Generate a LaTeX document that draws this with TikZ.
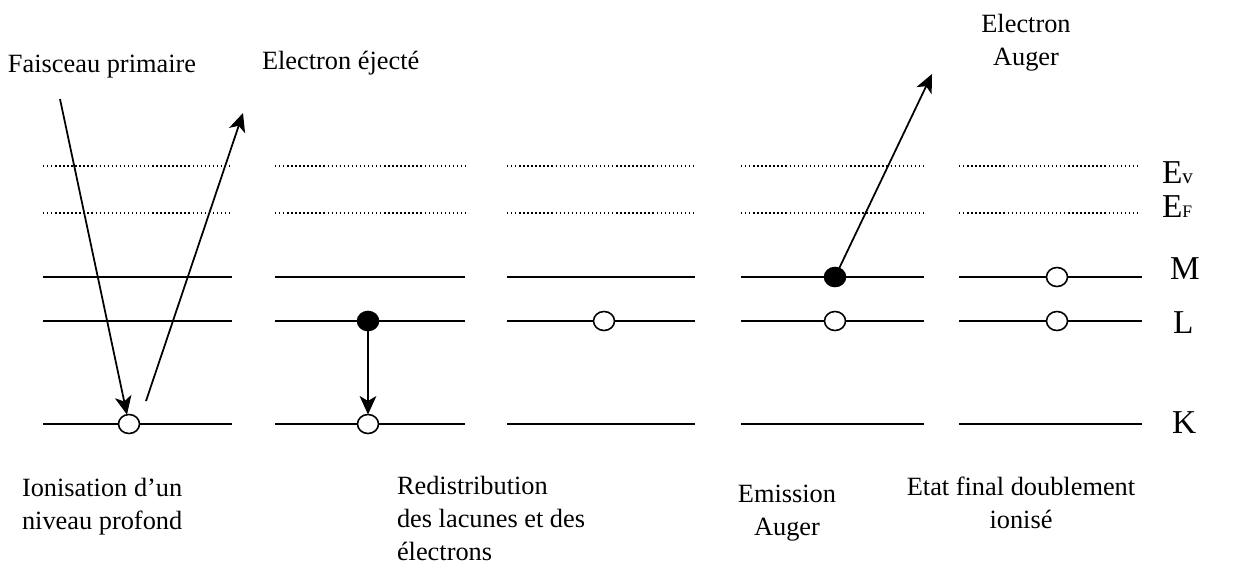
\documentclass[tikz,border=0pt]{standalone}
\usepackage{fontspec}
\setmainfont{Liberation Serif}
\usepackage{tikz}
\usetikzlibrary{arrows.meta,shapes.geometric}

\begin{document}
\begin{tikzpicture}[x=0.02cm, y=-0.02cm,
  every node/.style={inner sep=0pt, outer sep=0pt},
  lvl/.style={line width=1.1pt},
  fermi/.style={line width=0.8pt, dash pattern=on 0.8pt off 1.5pt},
  hole/.style={ellipse, draw, line width=0.9pt, fill=white, minimum width=0.42cm, minimum height=0.38cm},
  occ/.style={hole, fill=black},
  jump/.style={line width=1pt, -{Stealth[length=10.5pt,width=9.5pt,inset=2.8pt]}},
  txt/.style={font=\fontsize{15}{18.7}\selectfont},
  sym/.style={font=\fontsize{19}{22}\selectfont}]
\useasboundingbox (0,0) rectangle (1233,568);

\draw[fermi] (43,166) -- (232,166) (43,213) -- (232,213);
\draw[fermi] (275,166) -- (465,166) (275,213) -- (465,213);
\draw[fermi] (507,166) -- (695,166) (507,213) -- (695,213);
\draw[fermi] (741,166) -- (923,166) (741,213) -- (923,213);
\draw[fermi] (959,166) -- (1137,166) (959,213) -- (1137,213);

\draw[lvl] (43,277) -- (232,277) (43,321) -- (232,321) (43,424) -- (232,424);
\draw[lvl] (275,277) -- (465,277) (275,321) -- (465,321) (275,424) -- (465,424);
\draw[lvl] (507,277) -- (695,277) (507,321) -- (695,321) (507,424) -- (695,424);
\draw[lvl] (741,277) -- (924,277) (741,321) -- (924,321) (741,424) -- (924,424);
\draw[lvl] (959,277) -- (1142,277) (959,321) -- (1142,321) (959,424) -- (1142,424);

\node[hole] (k1) at (129,424) {};
\node[occ] (l2) at (368,321) {};
\node[hole] (k2) at (368,424) {};
\node[hole] (l3) at (604,321) {};
\node[occ] (m4) at (835,277) {};
\node[hole] (l4) at (835,321) {};
\node[hole] (m5) at (1057,277) {};
\node[hole] (l5) at (1057,321) {};

\coordinate (fp) at (60,99);
\coordinate (ej0) at (146,401);
\coordinate (ej) at (243,113);
\coordinate (au) at (932,74);

\draw[jump] (fp) -- (k1);
\draw[jump] (ej0) -- (ej);
\draw[jump] (l2) -- (k2);
\draw[jump] (m4) -- (au);

\node[txt, anchor=base west] (fp-t) at (8,72) {Faisceau primaire};
\node[txt, anchor=base west] (ej-t) at (262,69) {Electron éjecté};
\node[txt, align=center, anchor=base] (au-t) at (1026,65) {Electron\\Auger};

\node[txt, align=left, anchor=base west] (ion) at (22,529) {Ionisation d’un\\niveau profond};
\node[txt, align=left, anchor=base west] (red) at (397,560) {Redistribution\\des lacunes et des\\électrons};
\node[txt, align=center, anchor=base] (emi) at (787,535) {Emission\\Auger};
\node[txt, align=center, anchor=base] (fin) at (1021,528) {Etat final doublement\\ionisé};

\node[sym, anchor=base west] (ev) at (1162,183) {E{\fontsize{12}{12}\selectfont v}};
\node[sym, anchor=base west] (ef) at (1162,217) {E{\fontsize{10}{12}\selectfont F}};
\node[sym, anchor=base west] (lm) at (1170,279) {M};
\node[sym, anchor=base west] (ll) at (1173,333) {L};
\node[sym, anchor=base west] (lk) at (1172,433) {K};
\end{tikzpicture}
\end{document}
